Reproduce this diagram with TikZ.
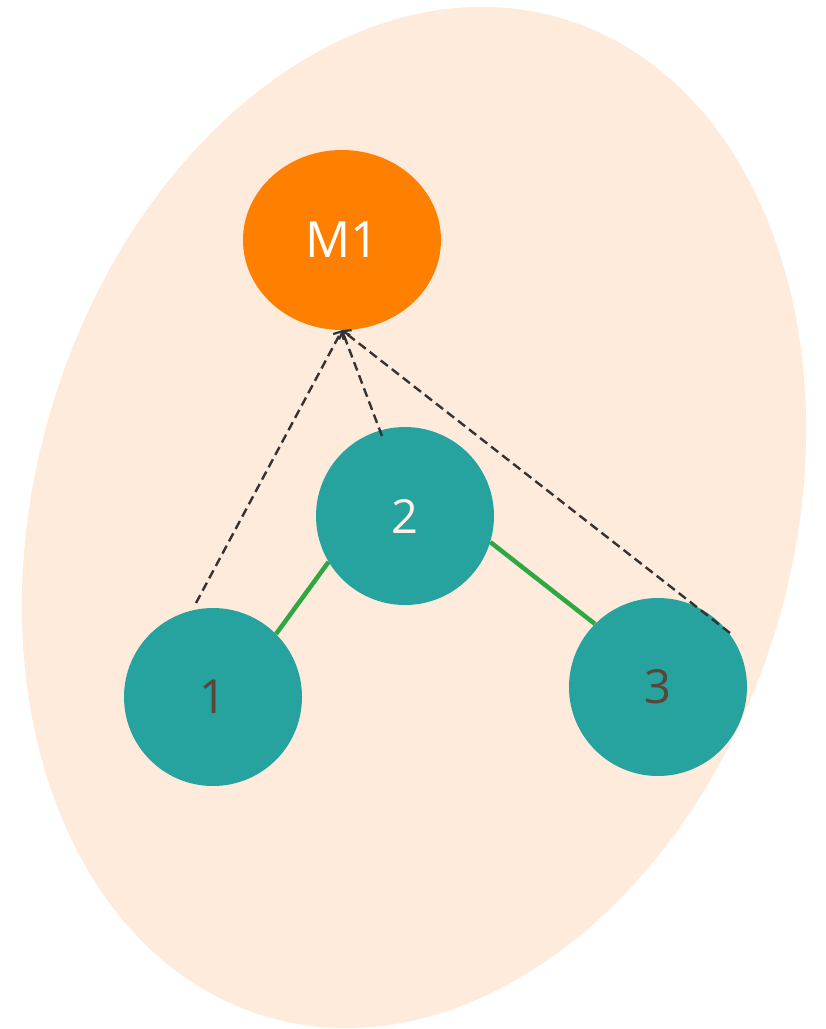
\documentclass[tikz,border=0pt]{standalone}
\usepackage{fontspec}
\setmainfont{Open Sans}
\usetikzlibrary{shapes.geometric,arrows.meta}
\definecolor{peach}{HTML}{FEEBDB}
\definecolor{morange}{HTML}{FF7F00}
\definecolor{tealc}{HTML}{26A29F}
\definecolor{greenc}{HTML}{2DA845}
\definecolor{brownt}{HTML}{5B4537}
\definecolor{creamt}{HTML}{FDF1E3}
\definecolor{dashc}{HTML}{333333}
\tikzset{
  memnode/.style={ellipse, fill=morange, minimum width=198pt, minimum height=180pt, inner sep=0pt, text=white, font=\fontsize{50}{50}\selectfont},
  numnode/.style={circle, fill=tealc, minimum size=178pt, inner sep=0pt, font=\fontsize{47}{47}\selectfont},
  edgeline/.style={draw=greenc, line width=4.5pt},
  dashline/.style={draw=dashc, line width=2.4pt, dash pattern=on 9pt off 5pt, -{Straight Barb[length=6pt,width=12pt,line width=2.2pt]}}
}
\begin{document}
\begin{tikzpicture}[x=1pt,y=-1pt]
\useasboundingbox (0,0) rectangle (826,1029);
\fill[peach, rotate around={-16.5:(414,517.5)}] (414,517.5) ellipse [x radius=378.7, y radius=520.5];
\node[memnode] (m1) at (342,240) {M1};
\node[numnode, text=brownt] (n1) at (213,697) {1};
\node[numnode, text=creamt] (n2) at (405,516) {2};
\node[numnode, text=brownt] (n3) at (658,687) {3};
\coordinate (p1) at (196,603);
\coordinate (p2) at (382,436);
\coordinate (p3) at (730,633);
\draw[edgeline] (n1.45) -- (n2.211);
\draw[edgeline] (n2.-17) -- (n3.135);
\draw[dashline] (p1) -- (m1.south);
\draw[dashline] (p2) -- (m1.south);
\draw[dashline] (p3) -- (m1.south);
\end{tikzpicture}
\end{document}
